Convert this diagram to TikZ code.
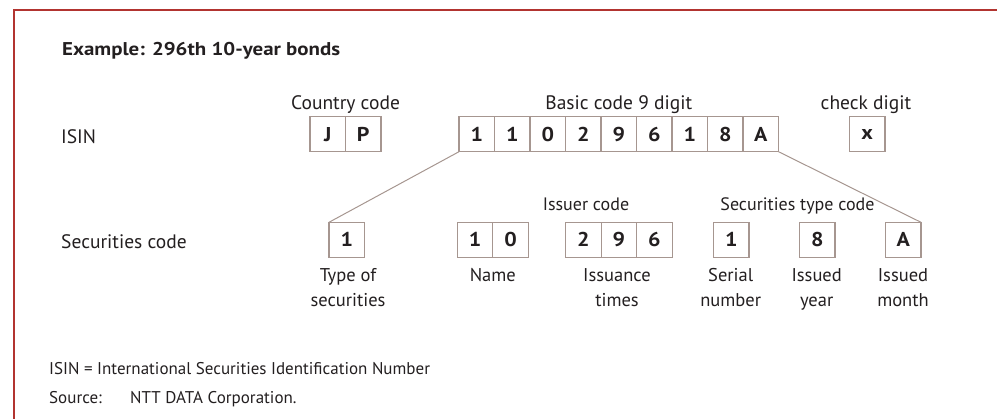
\documentclass[tikz,border=0pt]{standalone}
\usepackage{fontspec}
\setmainfont{PT Sans}
\newfontfamily\titlefont{PT Sans Bold}[FakeStretch=1.13]
\newfontfamily\digitfont{PT Sans Bold}[FakeStretch=1.1]
\definecolor{framered}{RGB}{178,52,48}
\definecolor{boxline}{RGB}{166,150,144}
\definecolor{ink}{RGB}{35,31,32}
\begin{document}
\begin{tikzpicture}[x=1pt,y=-1pt,
  cell/.style={draw=boxline,line width=1.1pt,minimum width=35.5pt,minimum height=35pt,
    inner sep=0pt,outer sep=0pt,text=ink,font=\fontsize{20}{20}\digitfont},
  lbl/.style={inner sep=0pt,text=ink,font=\fontsize{19.5}{25}\selectfont},
  grp/.style={inner sep=0pt,text=ink,anchor=base,font=\fontsize{18}{25}\selectfont},
  sub/.style={inner sep=0pt,text=ink,align=center,anchor=base,font=\fontsize{18.5}{25}\selectfont},
  note/.style={inner sep=0pt,text=ink,anchor=base west,font=\fontsize{17}{20}\selectfont},
  link/.style={draw=boxline,line width=1pt}]
\useasboundingbox (0,0) rectangle (997,419);
% frame
\draw[framered,line width=1.5pt] (14,419) -- (14,10) -- (997,10);
% title
\node[inner sep=0pt,anchor=base west,text=ink,font=\fontsize{18.5}{20}\titlefont] (title) at (62,55.7) {Example: 296th 10-year bonds};
% row labels
\node[lbl,anchor=base west] (isin) at (61,143.3) {ISIN};
\node[lbl,anchor=base west] (sec) at (61,249) {Securities code};
% ISIN row
\node[cell] (c1) at (327.75,134.2) {J};
\node[cell] (c2) at (363.25,134.2) {P};
\foreach \d [count=\i] in {1,1,0,2,9,6,1,8,A}
  \node[cell] (b\i) at ({459+17.75+35.5*(\i-1)},134.2) {\d};
\node[cell] (ck) at (867.25,134.2) {x};
% ISIN headings
\node[lbl,anchor=base] (hc) at (345.5,109.3) {Country code};
\node[lbl,anchor=base] (hb) at (618.75,109.3) {Basic code 9 digit};
\node[lbl,anchor=base] (hk) at (866,109.3) {check digit};
% securities code row
\node[cell] (t1) at (346.75,239.8) {1};
\node[cell] (n1) at (475.05,239.8) {1};
\node[cell] (n2) at (510.55,239.8) {0};
\node[cell] (i1) at (583.45,239.8) {2};
\node[cell] (i2) at (618.95,239.8) {9};
\node[cell] (i3) at (654.45,239.8) {6};
\node[cell] (s1) at (731.25,239.8) {1};
\node[cell] (y1) at (817.25,239.8) {8};
\node[cell] (m1) at (903.25,239.8) {A};
% group headings
\node[grp] (hi) at (586,210.7) {Issuer code};
\node[grp] (hs) at (797.5,210.7) {Securities type code};
% field names (base anchor sits on the last line)
\node[sub] (lt) at (348,306.7) {Type of\\securities};
\node[sub] (ln) at (492.8,281.7) {Name};
\node[sub] (li) at (617,306.7) {Issuance\\times};
\node[sub] (ls) at (730.7,306.7) {Serial\\number};
\node[sub] (ly) at (816.7,306.7) {Issued\\year};
\node[sub] (lm) at (903,306.7) {Issued\\month};
% expansion lines
\draw[link] (b1.south west) -- (t1.north west);
\draw[link] (b9.south east) -- (m1.north east);
% notes
\node[note] (f1) at (49,374.3) {ISIN = International Securities Identification Number};
\node[note] (f2) at (49,403.3) {Source:};
\node[note] (f3) at (130,403.3) {NTT DATA Corporation.};
\end{tikzpicture}
\end{document}
